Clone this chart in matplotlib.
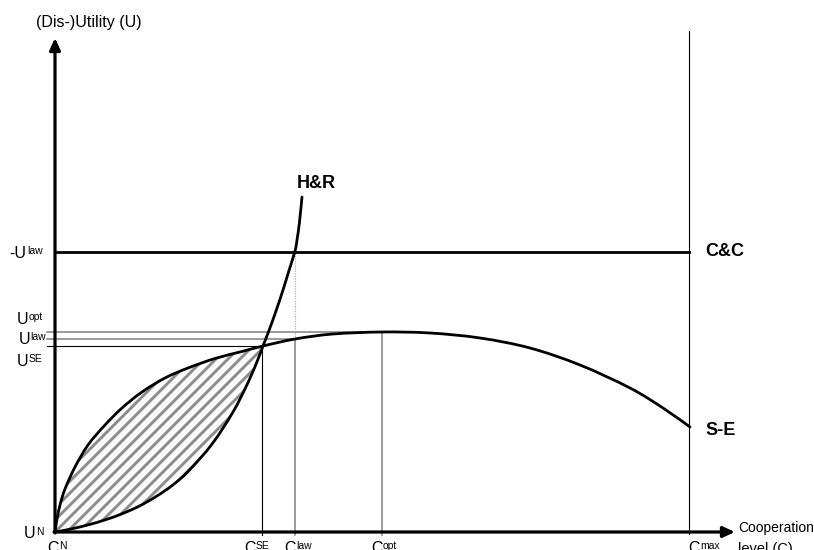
import matplotlib
matplotlib.use('Agg')
import matplotlib.pyplot as plt
import numpy as np
from matplotlib.patches import Polygon, PathPatch
from matplotlib.path import Path

plt.rcParams['font.family'] = ['Liberation Sans', 'DejaVu Sans']

# ---- data (diagram units) ----
SE_C = [0, 2, 5, 10, 20, 33, 50, 67, 87, 110, 133, 160, 187, 208, 240, 278, 327, 375, 425, 475, 525, 575, 608, 635]
SE_U = [0, 13, 27, 43, 65, 87, 107, 124, 140, 154, 164, 173.5, 180.5, 186, 193, 198, 200, 199, 194, 184, 167, 144, 124, 105]

HR_C = [0, 15, 33, 50, 67, 84, 100, 117, 133, 157, 178, 193, 203, 208, 214, 221, 228, 234, 240, 242, 244.5, 247]
HR_U = [0, 2.8, 7.1, 12.1, 18.2, 25.8, 34.8, 46.4, 60.4, 87.9, 120, 149.4, 172.8, 186, 201.5, 221, 242, 261.5, 281, 292, 310, 335]

C_SE, C_LAW, C_OPT, C_MAX = 207, 240, 327, 634
U_SE, U_LAW, U_OPT, U_CC = 186, 193, 200, 280

DPI = 100
fig = plt.figure(figsize=(8.14, 5.5), dpi=DPI)
ax = fig.add_axes([0, 0, 1, 1])
ax.set_xlim(-55, 759)
ax.set_ylim(-18, 532)
ax.axis('off')

GRAY = '#808080'


def smooth_path(xs, ys):
    P = np.column_stack([xs, ys]).astype(float)
    n = len(P)
    verts = [P[0]]
    codes = [Path.MOVETO]
    for i in range(n - 1):
        p0 = P[i - 1] if i > 0 else P[i]
        p1 = P[i]
        p2 = P[i + 1]
        p3 = P[i + 2] if i + 2 < n else P[i + 1]
        verts += [p1 + (p2 - p0) / 6.0, p2 - (p3 - p1) / 6.0, p2]
        codes += [Path.CURVE4] * 3
    return Path(verts, codes)


# hatched region between curves
se_c = np.array(SE_C); se_u = np.array(SE_U)
hr_c = np.array(HR_C); hr_u = np.array(HR_U)
m1 = se_c <= 208; m2 = hr_c <= 208
poly_pts = np.vstack([np.column_stack([se_c[m1], se_u[m1]]),
                      np.column_stack([hr_c[m2][::-1], hr_u[m2][::-1]])])
poly = Polygon(poly_pts, closed=True, facecolor='none', edgecolor='none')
ax.add_patch(poly)
for k in np.arange(-300, 300, 12):
    ln, = ax.plot([-20, 280], [-20 - k, 280 - k], color='#8c8c8c', lw=2.1, zorder=1)
    ln.set_clip_path(poly)

# reference lines
ax.plot([-8, C_OPT], [U_OPT, U_OPT], color=GRAY, lw=1.1, zorder=2)
ax.plot([-8, C_LAW], [U_LAW, U_LAW], color=GRAY, lw=1.1, zorder=2)
ax.plot([-8, C_SE], [U_SE, U_SE], color='black', lw=0.8, zorder=2)
ax.plot([C_SE, C_SE], [-3, U_SE], color='black', lw=0.8, zorder=2)
ax.plot([C_LAW, C_LAW], [-3, U_LAW], color=GRAY, lw=1.1, zorder=2)
ax.plot([C_LAW, C_LAW], [U_LAW, U_CC], color='#b0b0b0', lw=0.9, ls=(0, (1, 1)), zorder=2)
ax.plot([C_OPT, C_OPT], [-3, U_OPT], color=GRAY, lw=1.1, zorder=2)
ax.plot([C_MAX, C_MAX], [-2, 501], color='black', lw=0.8, zorder=2)

# C&C line
ax.plot([0, C_MAX], [U_CC, U_CC], color='black', lw=2.0, zorder=3)

# curves (smooth)
ax.add_patch(PathPatch(smooth_path(SE_C, SE_U), facecolor='none', edgecolor='black',
                       lw=2.0, zorder=4, capstyle='round'))
ax.add_patch(PathPatch(smooth_path(HR_C, HR_U), facecolor='none', edgecolor='black',
                       lw=2.0, zorder=4, capstyle='round'))

# axes with arrows
ax.annotate('', xy=(0, 494), xytext=(0, -1),
            arrowprops=dict(arrowstyle='-|>,head_length=0.7,head_width=0.32', lw=2.3,
                            color='black', shrinkA=0, shrinkB=0), zorder=5)
ax.annotate('', xy=(680, 0), xytext=(-1, 0),
            arrowprops=dict(arrowstyle='-|>,head_length=0.7,head_width=0.32', lw=2.3,
                            color='black', shrinkA=0, shrinkB=0), zorder=5)

renderer = fig.canvas.get_renderer()


def cap(size):
    return 0.716 * size * DPI / 72


def sup_label(x, y, base, sup, size=11.5, ssize=7.5):
    t = ax.text(x, y, base, fontsize=size, ha='left', va='baseline')
    w = t.get_window_extent(renderer).width
    ax.text(x + w + 0.5, y + cap(size) - cap(ssize), sup, fontsize=ssize,
            ha='left', va='baseline')


sup_label(-45.7, 273.7, '-U', 'law')
sup_label(-38.3, 208.5, 'U', 'opt')
sup_label(-36.7, 188, 'U', 'law')
sup_label(-38.3, 166, 'U', 'SE')
sup_label(-31, -6.5, 'U', 'N')
sup_label(-8, -21.4, 'C', 'N')
sup_label(189, -21.4, 'C', 'SE')
sup_label(229, -21.4, 'C', 'law')
sup_label(316, -21.4, 'C', 'opt')
sup_label(633, -21.4, 'C', 'max')

ax.text(683, 0.3, 'Cooperation', fontsize=10, ha='left', va='baseline')
ax.text(683, -20.7, 'level (C)', fontsize=10.5, ha='left', va='baseline')
ax.text(-19, 505.3, '(Dis-)Utility (U)', fontsize=11.5, ha='left', va='baseline')

ax.text(242, 343.5, 'H&R', fontsize=13, fontweight='bold', ha='left', va='baseline')
ax.text(650, 276.3, 'C&C', fontsize=13, fontweight='bold', ha='left', va='baseline')
ax.text(650, 97, 'S-E', fontsize=13, fontweight='bold', ha='left', va='baseline')

fig.savefig('out.png', dpi=DPI)
